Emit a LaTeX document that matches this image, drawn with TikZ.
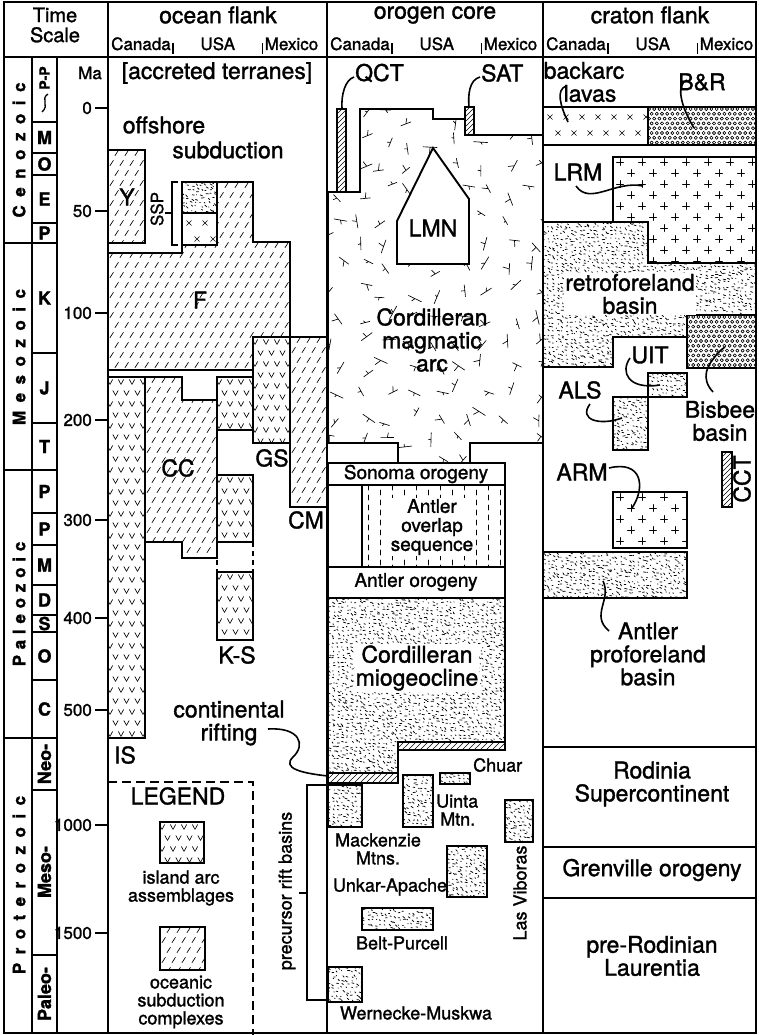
\documentclass[tikz,border=0pt]{standalone}
\usepackage{fontspec}
\setmainfont{TeX Gyre Heros}[FakeBold=1.4]
\newcommand\fsz[1]{\fontsize{#1}{#1}\selectfont}
\newcommand\bbar{\hspace{1.5pt}\rule[-4pt]{1.3pt}{11pt}\hspace{1.5pt}}
% ---------- fill patterns (drawn over a bounding box; caller clips) ----------
\newcommand\patOC[4]{% oceanic subduction complex: short slashes
 \pgfmathtruncatemacro\pnx{(#3-#1)/10+1}%
 \pgfmathtruncatemacro\pny{(#4-#2)/10+1}%
 \foreach \i in {0,...,\pnx}{\foreach \j in {0,...,\pny}{%
  \pgfmathsetmacro\px{#1+\i*10+mod(\j,2)*5-3}%
  \pgfmathsetmacro\py{#2+\j*10+3}%
  \draw[pt] (\px,\py+2.6) -- (\px+3.4,\py-2.6);}}}
\newcommand\patV[4]{% island arc: v marks
 \pgfmathtruncatemacro\pnx{(#3-#1)/11+1}%
 \pgfmathtruncatemacro\pny{(#4-#2)/11+1}%
 \foreach \i in {0,...,\pnx}{\foreach \j in {0,...,\pny}{%
  \pgfmathsetmacro\px{#1+\i*11+mod(\j,2)*5.5+2}%
  \pgfmathsetmacro\py{#2+\j*11+5}%
  \draw[pt] (\px-2.6,\py-2.4) -- (\px,\py+2.4) -- (\px+2.6,\py-2.4);}}}
\newcommand\patSS[4]{% sandstone stipple
 \pgfmathtruncatemacro\pnx{(#3-#1)/4.5+1}%
 \pgfmathtruncatemacro\pny{(#4-#2)/4+1}%
 \foreach \i in {0,...,\pnx}{\foreach \j in {0,...,\pny}{%
  \pgfmathsetmacro\px{#1+\i*4.5+3*rnd-1}%
  \pgfmathsetmacro\py{#2+\j*4+3*rnd-1}%
  \pgfmathsetmacro\qa{25+35*rand}%
  \pgfmathsetmacro\ql{0.4+2.4*rnd}%
  \draw[pts] (\px,\py) -- ++(\qa:\ql);}}}
\newcommand\patCG[4]{% conglomerate: small circles
 \pgfmathtruncatemacro\pnx{(#3-#1)/5.2+1}%
 \pgfmathtruncatemacro\pny{(#4-#2)/4.8+1}%
 \foreach \i in {0,...,\pnx}{\foreach \j in {0,...,\pny}{%
  \pgfmathsetmacro\px{#1+\i*5.2+mod(\j,2)*2.6+1}%
  \pgfmathsetmacro\py{#2+\j*4.8+2}%
  \draw[pt] (\px,\py) circle[radius=1.6];}}}
\newcommand\patGR[4]{% granite: plus signs
 \pgfmathtruncatemacro\pnx{(#3-#1)/22+1}%
 \pgfmathtruncatemacro\pny{(#4-#2)/11+1}%
 \foreach \i in {0,...,\pnx}{\foreach \j in {0,...,\pny}{%
  \pgfmathsetmacro\px{#1+\i*22+mod(\j,2)*11+7}%
  \pgfmathsetmacro\py{#2+\j*11+5}%
  \draw[pt] (\px-3.5,\py) -- (\px+3.5,\py) (\px,\py-3.5) -- (\px,\py+3.5);}}}
\newcommand\patX[4]{% x marks
 \pgfmathtruncatemacro\pnx{(#3-#1)/16+1}%
 \pgfmathtruncatemacro\pny{(#4-#2)/16+1}%
 \foreach \i in {0,...,\pnx}{\foreach \j in {0,...,\pny}{%
  \pgfmathsetmacro\px{#1+\i*16+7+mod(\j,2)*8}%
  \pgfmathsetmacro\py{#2+\j*16+10}%
  \draw[pt] (\px-2.4,\py-2.4) -- (\px+2.4,\py+2.4) (\px-2.4,\py+2.4) -- (\px+2.4,\py-2.4);}}}
\newcommand\patH[5]{% diagonal hatch, #5 = spacing
 \pgfmathtruncatemacro\pnn{((#3-#1)+(#4-#2))/#5+1}%
 \foreach \k in {0,...,\pnn}{%
  \pgfmathsetmacro\px{#1-(#4-#2)+\k*#5}%
  \draw[pt] (\px,#4) -- (\px+#4-#2,#2);}}
\newcommand\patMA[4]{% magmatic arc: random ticks
 \pgfmathtruncatemacro\pnx{(#3-#1)/25+1}%
 \pgfmathtruncatemacro\pny{(#4-#2)/25+1}%
 \foreach \i in {0,...,\pnx}{\foreach \j in {0,...,\pny}{%
  \pgfmathsetmacro\px{#1+\i*25+16*rnd}%
  \pgfmathsetmacro\py{#2+\j*25+16*rnd}%
  \pgfmathsetmacro\qa{180*rnd}%
  \pgfmathsetmacro\qb{\qa+50+80*rnd}%
  \pgfmathsetmacro\ql{4.5+3*rnd}%
  \pgfmathsetmacro\qm{2+5*rnd}%
  \draw[pt] (\px,\py) ++(\qa:-\ql) -- ++(\qa:2*\ql) (\px,\py) -- ++(\qb:\qm);}}}
\newcommand\patVD[4]{% vertical dashes
 \pgfmathtruncatemacro\pnx{(#3-#1)/12+1}%
 \pgfmathtruncatemacro\pny{(#4-#2)/10+1}%
 \foreach \i in {0,...,\pnx}{\foreach \j in {0,...,\pny}{%
  \pgfmathsetmacro\px{#1+\i*12+6}%
  \pgfmathsetmacro\py{#2+\j*10+mod(\i,2)*5}%
  \draw[pt] (\px,\py) -- (\px,\py+5);}}}
\newcommand\cusa[2]{%
  \node[sub, anchor=base west, text width=207pt] (#2) at (#1+3,50) {Canada\bbar\hfill USA\hfill\bbar Mexico};}
\tikzset{
  pt/.style={line width=0.65pt, line cap=round, line join=round},
  pts/.style={line width=0.75pt, line cap=round},
  bx/.style={draw, line width=1.9pt, line join=miter},
  frm/.style={line width=2.2pt},
  ld/.style={line width=1.6pt},
  big/.style={font=\fsz{23}, inner sep=0pt, align=center},
  med/.style={font=\fsz{19}, inner sep=0pt, align=center},
  sml/.style={font=\fsz{18}, inner sep=0pt, align=center},
  sub/.style={font=\fsz{17}, inner sep=0pt},
  ma/.style={font=\fsz{17}, inner sep=0pt, anchor=east},
  per/.style={font=\fsz{18}\bfseries, inner sep=0pt},
  era/.style={font=\fsz{17}\bfseries, inner sep=0pt, rotate=90},
  tk/.style={line width=1.6pt},
}
\begin{document}
\begin{tikzpicture}[x=1pt,y=-1pt]
\pgfmathsetseed{4242}
\useasboundingbox (0,0) rectangle (758,1035);
\fill[white] (0,0) rectangle (758,1035);

% ================= OCEAN FLANK =================
\draw[bx, path picture={\patOC{108}{150}{145}{243}}] (108,150) rectangle (145,243);
\draw[bx, path picture={\patSS{182}{182}{217}{213}}] (182,182) rectangle (217,213);
\draw[bx, path picture={\patX{182}{213}{217}{245}}] (182,213) rectangle (217,245);
\draw[bx, path picture={\patOC{108}{182}{290}{370}}]
  (108,253) -- (182,253) -- (182,245) -- (217,245) -- (217,182) -- (253,182) -- (253,242)
  -- (290,242) -- (290,337) -- (253,337) -- (253,370) -- (108,370) -- cycle;
\draw[bx, path picture={\patV{108}{377}{145}{738}}] (108,377) rectangle (145,738);
\draw[bx, path picture={\patOC{145}{377}{217}{558}}]
  (145,377) -- (182,377) -- (182,400) -- (217,400) -- (217,558) -- (182,558) -- (182,542) -- (145,542) -- cycle;
\draw[bx, path picture={\patV{217}{377}{253}{430}}] (217,377) rectangle (253,430);
\draw[bx, path picture={\patV{253}{337}{290}{443}}] (253,337) rectangle (290,443);
\draw[bx, path picture={\patOC{290}{337}{327}{507}}] (290,337) rectangle (327,507);
\draw[bx, path picture={\patV{217}{475}{253}{542}}] (217,475) rectangle (253,542);
\draw[bx, path picture={\patV{217}{572}{253}{640}}] (217,572) rectangle (253,640);
\draw[line width=1.9pt, dash pattern=on 5pt off 4pt] (217,542) -- (217,572) (253,542) -- (253,572);
% SSP bracket
\draw[line width=1.4pt] (178,182) -- (172,182) -- (172,245) -- (178,245) (172,213) -- (165,213);

\node[big] (acc) at (217,73) {[accreted terranes]};
\node[big] (off) at (164,125) {offshore};
\node[big] (sub) at (228,150) {subduction};
\node[big] (lY) at (127,197) {Y};
\node[font=\fsz{17}, inner sep=0pt, rotate=90] (lSSP) at (157,209) {SSP};
\node[big] (lF) at (200,300) {F};
\node[big] (lCC) at (178,468) {CC};
\node[big] (lGS) at (272,458) {GS};
\node[big] (lCM) at (306,520) {CM};
\node[big] (lKS) at (237,655) {K-S};
\node[big] (lIS) at (125,755) {IS};
\node[big] (crift) at (229,723) {continental\\rifting};
\draw[ld] (268,729) .. controls (300,727) and (306,745) .. (293,757) .. controls (282,768) and (300,773) .. (328,776);

% legend
\draw[line width=1.6pt, dash pattern=on 9pt off 5pt] (108,782) -- (253,782) -- (253,1035);
\node[big] (leg) at (178,796) {LEGEND};
\draw[bx, path picture={\patV{160}{822}{204}{863}}] (160,822) rectangle (204,863);
\node[sml] (leg1) at (181,888) {island arc\\assemblages};
\draw[bx, path picture={\patOC{160}{927}{205}{970}}] (160,927) rectangle (205,970);
\node[sml] (leg2) at (181,1002) {oceanic\\subduction\\complexes};

% precursor rift basins bracket
\draw[line width=1.5pt] (326,785) -- (307,785) -- (307,1000) -- (326,1000) (307,893) -- (299,893);
\node[sml, rotate=90] (prb) at (287,891) {precursor rift basins};

% ================= OROGEN CORE =================
\draw[bx, path picture={\patMA{328}{109}{543}{463}}]
  (328,192) -- (360,192) -- (360,109) -- (433,109) -- (433,119) -- (465,119) -- (465,135)
  -- (543,135) -- (543,443) -- (470,443) -- (470,463) -- (398,463) -- (398,443) -- (328,443) -- cycle;
\draw[bx, fill=white] (433,148) -- (469,199) -- (469,264) -- (397,264) -- (397,221) -- cycle;
\node[big] (lLMN) at (433,228) {LMN};
\node[big] (cma) at (432,340) {Cordilleran\\magmatic\\arc};
\draw[bx, fill=white, path picture={\patH{337}{109}{346}{192}{5}}] (337,109) rectangle (346,192);
\draw[bx, fill=white, path picture={\patH{465}{107}{474}{135}{5}}] (465,107) rectangle (474,135);
\node[big, anchor=west] (lQCT) at (355,73) {QCT};
\node[big, anchor=west] (lSAT) at (481,73) {SAT};
\draw[ld] (354,77) .. controls (345,80) and (341,95) .. (342,109);
\draw[ld] (480,77) .. controls (469,80) and (468,95) .. (469,107);

\draw[bx] (328,463) rectangle (505,485);
\node[med] (son) at (416,474) {Sonoma orogeny};
\draw[bx, path picture={\patVD{362}{485}{505}{567}}] (362,485) rectangle (505,567);
\draw[bx] (328,485) rectangle (362,567);
\node[med, fill=white, inner sep=1pt] (aos) at (432,527) {Antler\\overlap\\sequence};
\draw[bx] (328,567) rectangle (505,598);
\node[med] (aor) at (416,582) {Antler orogeny};
\draw[bx, path picture={\patSS{328}{598}{505}{773}}]
  (328,598) -- (505,598) -- (505,742) -- (398,742) -- (398,773) -- (328,773) -- cycle;
\draw[bx, fill=white, path picture={\patH{398}{742}{505}{750}{6}}] (398,742) rectangle (505,750);
\draw[bx, fill=white, path picture={\patH{328}{773}{398}{783}{6}}] (328,773) rectangle (398,783);
\node[big, fill=white, inner sep=1pt] (mio) at (417,668) {Cordilleran\\miogeocline};

% rift basins
\draw[bx, path picture={\patSS{328}{785}{362}{827}}] (328,785) rectangle (362,827);
\draw[bx, path picture={\patSS{403}{775}{433}{827}}] (403,775) rectangle (433,827);
\draw[bx, path picture={\patSS{440}{773}{470}{784}}] (440,773) rectangle (470,784);
\draw[bx, path picture={\patSS{505}{800}{533}{842}}] (505,800) rectangle (533,842);
\draw[bx, path picture={\patSS{447}{846}{487}{897}}] (447,846) rectangle (487,897);
\draw[bx, path picture={\patSS{362}{908}{433}{930}}] (362,908) rectangle (433,930);
\draw[bx, path picture={\patSS{328}{967}{362}{1002}}] (328,967) rectangle (362,1002);
\node[sml, anchor=west] (chu) at (473,765) {Chuar};
\node[sml, anchor=west, align=left] (uin) at (436,810) {Uinta\\\hspace*{4pt}Mtn.};
\node[sml] (mac) at (378,849) {Mackenzie\\Mtns.};
\node[sml] (unk) at (390,887) {Unkar-Apache};
\node[sml] (bel) at (402,943) {Belt-Purcell};
\node[sml] (wer) at (416,1013) {Wernecke-Muskwa};
\node[sml, rotate=90] (las) at (520,893) {Las Viboras};

% ================= CRATON FLANK =================
\draw[bx, path picture={\patX{543}{107}{648}{145}}] (543,107) rectangle (648,145);
\draw[bx, path picture={\patCG{648}{107}{756}{145}}] (648,107) rectangle (756,145);
\node[big] (bal) at (584,82) {backarc\\\hspace*{12pt}lavas};
\node[big] (lBR) at (702,82) {B\&R};
\draw[ld] (566,86) .. controls (556,90) and (560,105) .. (568,122);
\draw[ld] (687,80) .. controls (676,84) and (680,105) .. (694,128);

\draw[bx, path picture={\patGR{613}{157}{756}{263}}]
  (613,157) -- (756,157) -- (756,263) -- (648,263) -- (648,222) -- (613,222) -- cycle;
\draw[bx, path picture={\patSS{543}{222}{756}{367}}]
  (543,222) -- (648,222) -- (648,263) -- (756,263) -- (756,315) -- (687,315) -- (687,337)
  -- (613,337) -- (613,367) -- (543,367) -- cycle;
\draw[bx, path picture={\patCG{687}{315}{756}{368}}] (687,315) rectangle (756,368);
\draw[bx, path picture={\patSS{648}{373}{687}{397}}] (648,373) rectangle (687,397);
\draw[bx, path picture={\patSS{613}{397}{648}{450}}] (613,397) rectangle (648,450);
\draw[bx, path picture={\patGR{613}{492}{687}{548}}] (613,492) rectangle (687,548);
\draw[bx, fill=white, path picture={\patH{722}{452}{732}{507}{5}}] (722,452) rectangle (732,507);
\draw[bx, path picture={\patSS{543}{552}{687}{598}}] (543,552) rectangle (687,598);

\node[big] (lLRM) at (578,172) {LRM};
\draw[ld] (576,186) .. controls (590,206) and (615,180) .. (643,186);
\node[big, fill=white, inner sep=1pt] (rfb) at (630,294) {retroforeland\\basin};
\node[big] (lUIT) at (650,355) {UIT};
\draw[ld] (630,358) .. controls (620,372) and (628,390) .. (660,385);
\node[big] (lALS) at (580,390) {ALS};
\draw[ld] (590,404) .. controls (578,420) and (600,426) .. (622,418);
\node[big] (bis) at (720,421) {Bisbee\\basin};
\draw[ld] (713,392) .. controls (700,378) and (708,365) .. (714,358) .. controls (718,352) and (721,350) .. (725,347);
\node[big] (lARM) at (582,472) {ARM};
\draw[ld] (609,468) .. controls (642,460) and (646,487) .. (632,508);
\node[big, rotate=90] (lCCT) at (742,479) {CCT};
\node[big] (apb) at (648,654) {Antler\\proforeland\\basin};
\draw[ld] (609,631) .. controls (590,615) and (612,600) .. (603,581);

\draw[frm] (543,747) -- (756,747) (543,847) -- (756,847) (543,898) -- (756,898);
\node[big] (rod) at (652,784) {Rodinia\\Supercontinent};
\node[big] (gre) at (652,870) {Grenville orogeny};
\node[big] (prl) at (652,956) {pre-Rodinian\\Laurentia};

% ================= FRAME / HEADER =================
\draw[frm] (4,2) rectangle (756,1033);
\draw[frm] (108,2) -- (108,1033) (327,2) -- (327,1033) (543,2) -- (543,1033);
\draw[frm] (4,57) -- (756,57);
\node[font=\fsz{20}, inner sep=0pt, align=center] (ts) at (55,25) {Time\\Scale};
\node[font=\fsz{23}, inner sep=0pt] (hO) at (218,15) {ocean flank};
\node[font=\fsz{23}, inner sep=0pt] (hG) at (435,15) {orogen core};
\node[font=\fsz{23}, inner sep=0pt] (hC) at (650,15) {craton flank};
\cusa{108}{co}
\cusa{327}{cg}
\cusa{543}{cc}

% ================= TIME SCALE =================
\draw[tk] (32,57) -- (32,1033) (57,57) -- (57,1033);
\draw[tk] (4,243) -- (57,243) (4,470) -- (57,470) (4,738) -- (57,738);
\foreach \yy in {122,153,175,223,353,423,513,545,585,615,632,680,790,955}
  \draw[tk] (32,\yy) -- (57,\yy);
\node[era, font=\fsz{17}\bfseries\addfontfeatures{LetterSpace=50}] (eC) at (19,150) {Cenozoic};
\node[era, font=\fsz{17}\bfseries\addfontfeatures{LetterSpace=50}] (eM) at (19,357) {Mesozoic};
\node[era, font=\fsz{17}\bfseries\addfontfeatures{LetterSpace=34}] (eP) at (19,604) {Paleozoic};
\node[era, font=\fsz{17}\bfseries\addfontfeatures{LetterSpace=50}] (eR) at (19,885) {Proterozoic};
\node[font=\fsz{14}\bfseries, inner sep=0pt, rotate=90] (pPP) at (44.5,78) {P-P};
\draw[line width=1.3pt] (48,94) .. controls (40,99) and (50,105) .. (42,112);
\node[per] (pMi) at (44.5,137.5) {M};
\node[per] (pOl) at (44.5,164) {O};
\node[per] (pEo) at (44.5,199) {E};
\node[per] (pPa) at (44.5,233) {P};
\node[per] (pK) at (44.5,298) {K};
\node[per] (pJ) at (44.5,388) {J};
\node[per] (pT) at (44.5,446.5) {T};
\node[per] (pPe) at (44.5,491.5) {P};
\node[per] (pPn) at (44.5,529) {P};
\node[per] (pMs) at (44.5,565) {M};
\node[per] (pD) at (44.5,600) {D};
\node[per] (pS) at (44.5,623.5) {S};
\node[per] (pO) at (44.5,656) {O};
\node[per] (pC) at (44.5,709) {C};
\node[per, rotate=90] (pNeo) at (44.5,764) {Neo-};
\node[per, rotate=90] (pMeso) at (44.5,872) {Meso-};
\node[per, rotate=90] (pPaleo) at (44.5,994) {Paleo-};
\node[font=\fsz{17}, inner sep=0pt] (lMa) at (90,73) {Ma};
\foreach \v/\yy in {0/108,50/211,100/313,200/420,300/520,400/618,500/710,1000/825,1500/933}{
  \node[ma] (m\v) at (92,\yy) {\v};
  \draw[tk] (95,\yy) -- (108,\yy);}
\end{tikzpicture}
\end{document}
